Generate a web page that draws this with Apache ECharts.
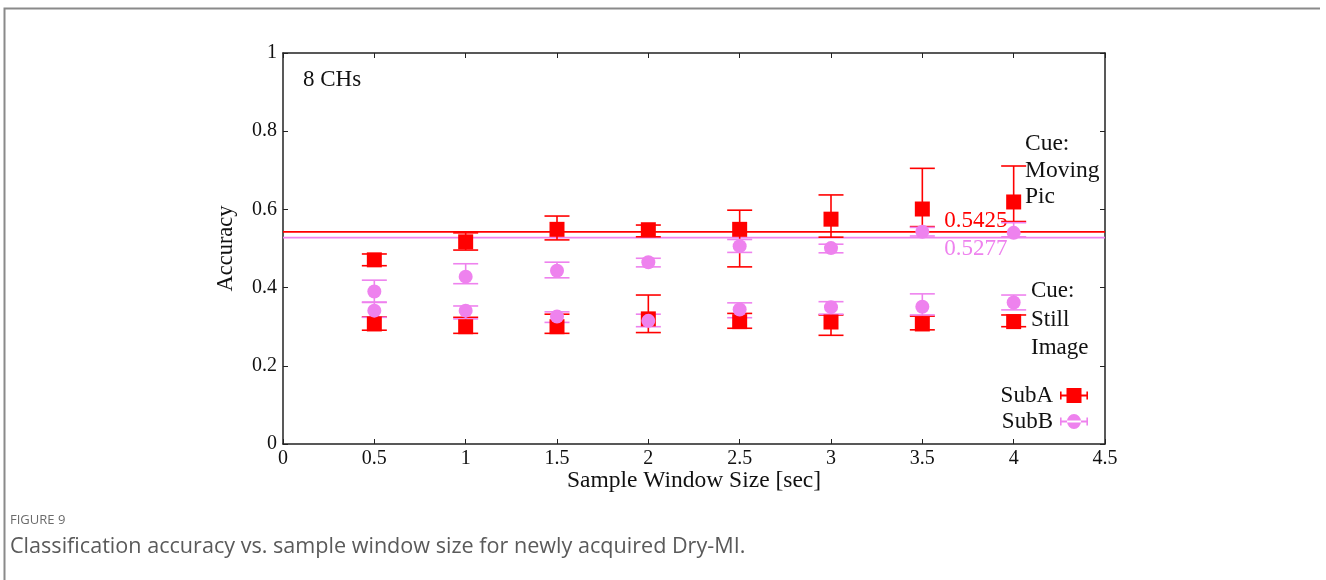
<!DOCTYPE html>
<html>
<head>
<meta charset="utf-8">
<script src="https://cdn.jsdelivr.net/npm/echarts@6/dist/echarts.min.js"></script>
<style>
  html, body { margin: 0; padding: 0; background: #ffffff; }
  #chart { width: 1326px; height: 580px; }
</style>
</head>
<body>
<div id="chart"></div>
<script>
// Window sizes (sec)
const windowSizes = [0.5, 1, 1.5, 2, 2.5, 3, 3.5, 4];

// Cue: Moving Pic
const subAMovingMean = [0.471, 0.517, 0.549, 0.548, 0.549, 0.575, 0.601, 0.619];
const subAMovingLow  = [0.456, 0.496, 0.522, 0.530, 0.453, 0.529, 0.556, 0.569];
const subAMovingHigh = [0.486, 0.540, 0.583, 0.560, 0.598, 0.637, 0.705, 0.711];
const subBMovingMean = [0.390, 0.428, 0.443, 0.465, 0.506, 0.501, 0.543, 0.540];
const subBMovingLow  = [0.362, 0.410, 0.425, 0.453, 0.490, 0.489, 0.532, 0.530];
const subBMovingHigh = [0.419, 0.461, 0.465, 0.475, 0.523, 0.511, 0.554, 0.566];

// Cue: Still Image
const subAStillMean = [0.307, 0.300, 0.300, 0.320, 0.313, 0.312, 0.307, 0.313];
const subAStillLow  = [0.291, 0.283, 0.283, 0.285, 0.296, 0.278, 0.292, 0.300];
const subAStillHigh = [0.325, 0.324, 0.332, 0.381, 0.334, 0.330, 0.327, 0.330];
const subBStillMean = [0.341, 0.341, 0.326, 0.315, 0.344, 0.350, 0.351, 0.362];
const subBStillLow  = [0.324, 0.320, 0.311, 0.300, 0.323, 0.332, 0.330, 0.343];
const subBStillHigh = [0.363, 0.353, 0.338, 0.332, 0.361, 0.364, 0.384, 0.381];

// Overall averages (SubA, SubB)
const averageValues = [0.5425, 0.5277];
const averageLabels = ['0.5425', '0.5277'];

// Tick labels
const xTickLabels = ['0', '0.5', '1', '1.5', '2', '2.5', '3', '3.5', '4', '4.5'];
const yTickLabels = ['0', '0.2', '0.4', '0.6', '0.8', '1'];

const seriesNames = ['SubA', 'SubB'];

const RED = '#ff0000';
const VIOLET = '#ee82ee';
const SERIF = 'Liberation Serif, Times New Roman, serif';
const AXIS_COLOR = '#222222';

function points(mean) {
  return windowSizes.map((x, i) => [x, mean[i]]);
}
function bars(low, high) {
  return windowSizes.map((x, i) => [x, low[i], high[i]]);
}

function errorBarSeries(name, color, low, high) {
  return {
    name: name,
    type: 'custom',
    data: bars(low, high),
    encode: { x: 0, y: [1, 2] },
    silent: true,
    renderItem: function (params, api) {
      const x = api.value(0);
      const top = api.coord([x, api.value(2)]);
      const bot = api.coord([x, api.value(1)]);
      const w = 12.5;
      const st = { stroke: color, lineWidth: 1.6 };
      return {
        type: 'group',
        children: [
          { type: 'line', shape: { x1: top[0], y1: top[1], x2: bot[0], y2: bot[1] }, style: st },
          { type: 'line', shape: { x1: top[0] - w, y1: top[1], x2: top[0] + w, y2: top[1] }, style: st },
          { type: 'line', shape: { x1: bot[0] - w, y1: bot[1], x2: bot[0] + w, y2: bot[1] }, style: st }
        ]
      };
    }
  };
}

function markerSeries(name, color, symbol, size, mean) {
  return {
    name: name,
    type: 'scatter',
    data: points(mean),
    symbol: symbol,
    symbolSize: size,
    itemStyle: { color: color, opacity: 1 },
    silent: true,
    z: 3
  };
}

// Average lines across the full window range, with their value printed near the right end
const averageSeries = {
  type: 'custom',
  data: averageValues.map((v, i) => [i, v]),
  encode: { y: 1 },
  silent: true,
  renderItem: function (params, api) {
    const i = api.value(0);
    const v = api.value(1);
    const color = i === 0 ? RED : VIOLET;
    const a = api.coord([0, v]);
    const b = api.coord([4.5, v]);
    const t = api.coord([3.62, v]);
    return {
      type: 'group',
      children: [
        { type: 'line', shape: { x1: a[0], y1: a[1], x2: b[0], y2: b[1] }, style: { stroke: color, lineWidth: 1.6 } },
        {
          type: 'text',
          x: t[0],
          y: t[1] + (i === 0 ? -11 : 11),
          style: {
            text: averageLabels[i],
            fill: color,
            font: '23px ' + SERIF,
            textAlign: 'left',
            textVerticalAlign: 'middle'
          }
        }
      ]
    };
  }
};

const legendSquare = 'path://M0,6.5h28v2h-28z M0,3.5h1.6v8h-1.6z M26.4,3.5h1.6v8h-1.6z M6.5,0h15v15h-15z';
const legendCircle = 'path://M0,6.5h28v2h-28z M0,3.5h1.6v8h-1.6z M26.4,3.5h1.6v8h-1.6z M7,7.5a7,7.5 0 1,0 14,0a7,7.5 0 1,0 -14,0z';

const chart = echarts.init(document.getElementById('chart'), null, { renderer: 'canvas' });

const serifText = (size) => ({ fontFamily: SERIF, fontSize: size, color: '#111' });

const axisLineStyle = { show: true, onZero: false, lineStyle: { color: AXIS_COLOR, width: 1.5 } };
const axisTickStyle = { show: true, inside: true, length: 5, lineStyle: { color: AXIS_COLOR, width: 1 } };

chart.setOption({
  backgroundColor: '#ffffff',
  animation: false,
  grid: { left: 283, top: 53, width: 822, height: 391, containLabel: false },
  legend: {
    data: [
      { name: seriesNames[0], icon: legendSquare, itemStyle: { color: RED } },
      { name: seriesNames[1], icon: legendCircle, itemStyle: { color: VIOLET } }
    ],
    orient: 'vertical',
    align: 'right',
    right: 238,
    top: 384,
    padding: 0,
    itemWidth: 28,
    itemHeight: 15,
    itemGap: 3,
    textStyle: { fontFamily: SERIF, fontSize: 23, color: '#111', padding: [0, 2, 0, 0] },
    selectedMode: false
  },
  xAxis: [
    {
      type: 'value', min: 0, max: 4.5, interval: 0.5, position: 'bottom',
      name: 'Sample Window Size [sec]', nameLocation: 'middle', nameGap: 25,
      nameMoveOverlap: false,
      nameTextStyle: serifText(23.5),
      axisLine: axisLineStyle,
      axisTick: axisTickStyle,
      axisLabel: { show: true, margin: 5, formatter: (v, i) => xTickLabels[i], ...serifText(20) },
      splitLine: { show: false }
    },
    {
      type: 'value', min: 0, max: 4.5, interval: 0.5, position: 'top',
      axisLine: axisLineStyle,
      axisTick: axisTickStyle,
      axisLabel: { show: false },
      splitLine: { show: false }
    }
  ],
  yAxis: [
    {
      type: 'value', min: 0, max: 1, interval: 0.2, position: 'left',
      name: 'Accuracy', nameLocation: 'middle', nameGap: 45, nameRotate: 90,
      nameMoveOverlap: false,
      nameTextStyle: serifText(22.5),
      axisLine: axisLineStyle,
      axisTick: axisTickStyle,
      axisLabel: { show: true, margin: 6, formatter: (v, i) => yTickLabels[i], ...serifText(20) },
      splitLine: { show: false }
    },
    {
      type: 'value', min: 0, max: 1, interval: 0.2, position: 'right',
      axisLine: axisLineStyle,
      axisTick: axisTickStyle,
      axisLabel: { show: false },
      splitLine: { show: false }
    }
  ],
  series: [
    averageSeries,
    errorBarSeries(seriesNames[0], RED, subAMovingLow, subAMovingHigh),
    markerSeries(seriesNames[0], RED, 'rect', 15, subAMovingMean),
    errorBarSeries(seriesNames[1], VIOLET, subBMovingLow, subBMovingHigh),
    markerSeries(seriesNames[1], VIOLET, 'circle', 14, subBMovingMean),
    errorBarSeries(seriesNames[0], RED, subAStillLow, subAStillHigh),
    markerSeries(seriesNames[0], RED, 'rect', 15, subAStillMean),
    errorBarSeries(seriesNames[1], VIOLET, subBStillLow, subBStillHigh),
    markerSeries(seriesNames[1], VIOLET, 'circle', 14, subBStillMean)
  ],
  graphic: [
    // card frame (top and left edges inside the view)
    { type: 'polyline', shape: { points: [[4.5, 600], [4.5, 8.5], [1320, 8.5]] }, style: { fill: 'none', stroke: '#8a8a8a', lineWidth: 2 }, silent: true, z: -1 },
    { type: 'text', left: 303, top: 68, style: { text: '8 CHs', font: '23px ' + SERIF, fill: '#111' } },
    { type: 'text', left: 1025, top: 131, style: { text: 'Cue:\nMoving\nPic', font: '23.5px ' + SERIF, fill: '#111', lineHeight: 26.5 } },
    { type: 'text', left: 1031, top: 277, style: { text: 'Cue:\nStill\nImage', font: '23px ' + SERIF, fill: '#111', lineHeight: 28.5 } },
    { type: 'text', left: 10, top: 514, style: { text: 'FIGURE 9', font: '13px Open Sans, sans-serif', fill: '#6b6b6b' } },
    { type: 'text', left: 10, top: 536, style: { text: 'Classification accuracy vs. sample window size for newly acquired Dry-MI.', font: '21.6px Open Sans, sans-serif', fill: '#5a5a5a' } }
  ]
});
</script>
</body>
</html>
